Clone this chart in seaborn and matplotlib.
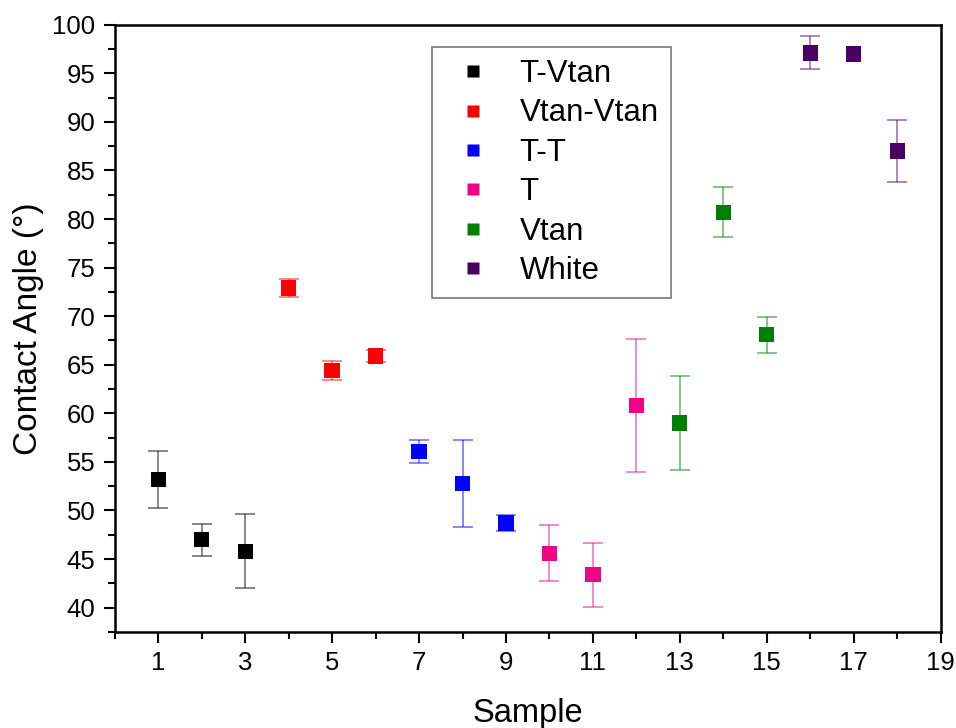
import numpy as np
import pandas as pd
import matplotlib
matplotlib.use("Agg")
import matplotlib.pyplot as plt
from matplotlib.ticker import MultipleLocator
import seaborn as sns

sns.set_theme(style="white")
plt.rcParams["font.family"] = ["Liberation Sans", "DejaVu Sans"]
plt.rcParams["text.color"] = "black"
plt.rcParams["axes.labelcolor"] = "black"
plt.rcParams["xtick.color"] = "black"
plt.rcParams["ytick.color"] = "black"

samples = list(range(1, 19))
angles = [53.2, 47.0, 45.8, 72.9, 64.4, 65.9, 56.1, 52.8, 48.7,
          45.6, 43.4, 60.8, 59.0, 80.7, 68.1, 97.1, 97.0, 87.0]
errors = [2.9, 1.65, 3.8, 0.9, 1.0, 0.6, 1.2, 4.5, 0.8,
          2.9, 3.3, 6.85, 4.85, 2.6, 1.85, 1.7, 0.0, 3.15]
groups = ["T-Vtan"] * 3 + ["Vtan-Vtan"] * 3 + ["T-T"] * 3 + ["T"] * 3 + ["Vtan"] * 3 + ["White"] * 3
group_order = ["T-Vtan", "Vtan-Vtan", "T-T", "T", "Vtan", "White"]
group_colors = ["#000000", "#FF0000", "#0000FF", "#EE0485", "#008000", "#4A0062"]

df = pd.DataFrame({"Sample": samples, "Angle": angles, "Err": errors, "Group": groups})
palette = dict(zip(group_order, group_colors))

fig, ax = plt.subplots(figsize=(9.56, 7.28), dpi=100)
fig.subplots_adjust(left=0.12, right=0.984, top=0.966, bottom=0.132)

# error bars first, lighter than the markers
for _, r in df.iterrows():
    if r["Err"] > 0:
        ax.errorbar(r["Sample"], r["Angle"], yerr=r["Err"], fmt="none",
                    ecolor=palette[r["Group"]], alpha=0.55, elinewidth=1.2,
                    capsize=7, capthick=1.2, zorder=2)

sns.scatterplot(data=df, x="Sample", y="Angle", hue="Group", hue_order=group_order,
                palette=palette, marker="s", s=120, edgecolor="none", ax=ax, zorder=3)

ax.set_xlim(0, 19)
ax.set_ylim(37.5, 100)
ax.set_xticks(range(1, 20, 2))
ax.xaxis.set_minor_locator(MultipleLocator(1))
ax.set_yticks(range(40, 101, 5))
ax.yaxis.set_minor_locator(MultipleLocator(2.5))
ax.tick_params(which="major", direction="out", length=8, width=1.5, labelsize=18.5,
               bottom=True, left=True, top=False, right=False, pad=6)
ax.tick_params(which="minor", direction="out", length=5, width=1.5,
               bottom=True, left=True, top=False, right=False)
for sp in ax.spines.values():
    sp.set_color("black")
    sp.set_linewidth(1.8)

ax.set_xlabel("Sample", fontsize=23.5, labelpad=16)
ax.set_ylabel("Contact Angle (°)", fontsize=24, labelpad=6)

leg = ax.legend(loc="upper left", bbox_to_anchor=(0.384, 0.964), borderaxespad=0,
                fontsize=22.5, frameon=True, fancybox=False, edgecolor="#555555",
                handletextpad=0.6, borderpad=0.4, labelspacing=0.3,
                markerscale=0.8, handlelength=1.8)
leg.get_frame().set_linewidth(1.2)

fig.savefig("out.png", dpi=100)
